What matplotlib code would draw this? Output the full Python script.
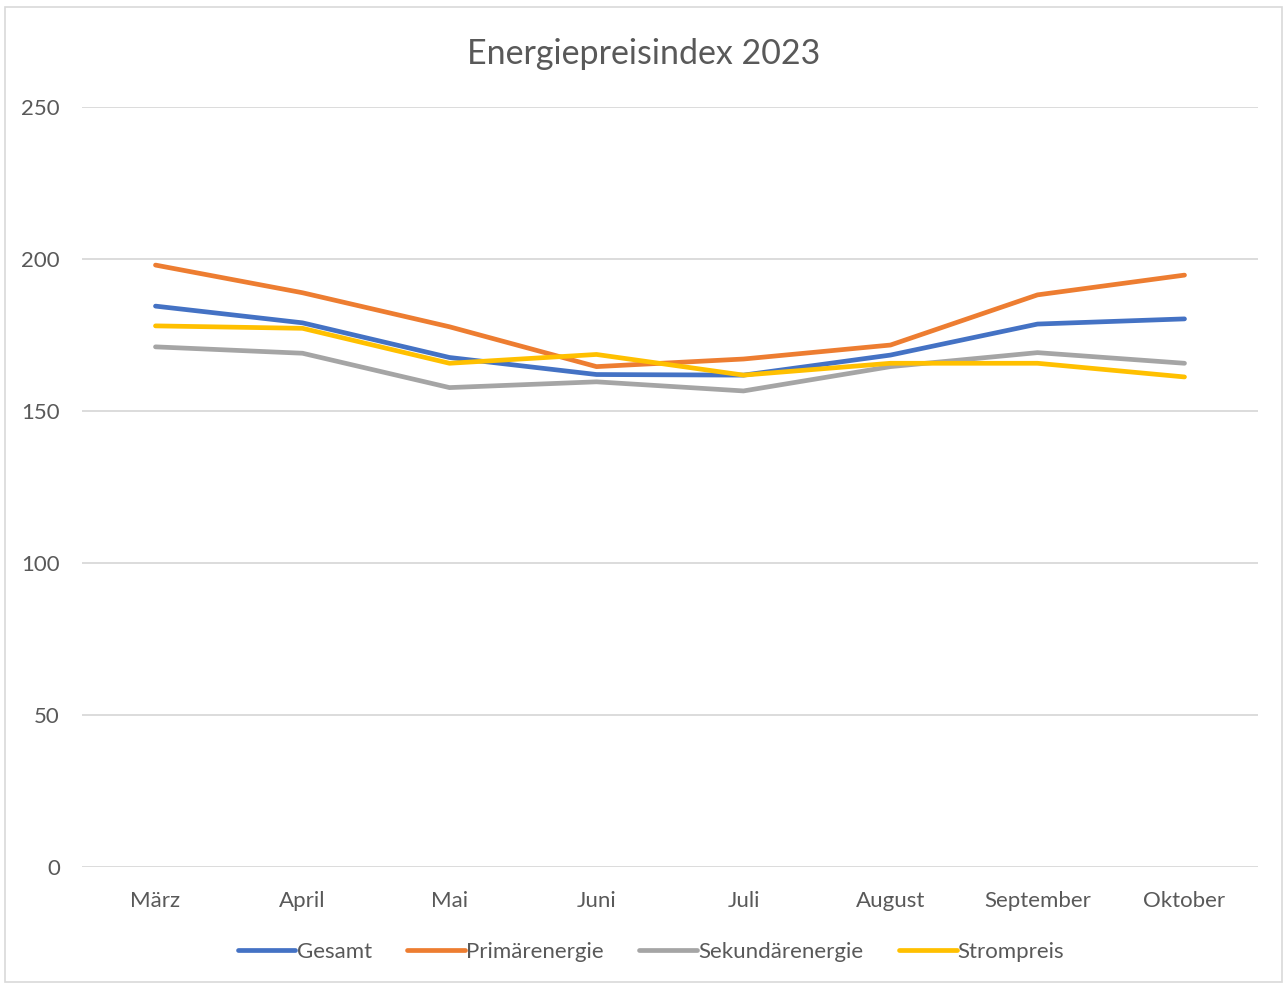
import matplotlib.pyplot as plt
from matplotlib.patches import Rectangle

plt.rcParams['font.family'] = ['Lato', 'DejaVu Sans']

# Monthly index values
months = ['März', 'April', 'Mai', 'Juni', 'Juli', 'August', 'September', 'Oktober']
gesamt = [184.5, 179.0, 167.6, 162.0, 161.8, 168.4, 178.6, 180.3]
primaer = [198.0, 188.9, 177.7, 164.6, 167.1, 171.7, 188.2, 194.7]
sekundaer = [171.1, 169.0, 157.7, 159.6, 156.6, 164.6, 169.2, 165.7]
strom = [178.0, 177.2, 165.7, 168.6, 161.8, 165.7, 165.7, 161.2]

series = [
    ('Gesamt', gesamt, '#4472C4'),
    ('Primärenergie', primaer, '#ED7D31'),
    ('Sekundärenergie', sekundaer, '#A5A5A5'),
    ('Strompreis', strom, '#FFC000'),
]

text_col = '#595959'

fig = plt.figure(figsize=(12.87, 9.85), dpi=100)
ax = fig.add_axes([82 / 1287, 1 - 867 / 985, (1258 - 82) / 1287, (867 - 107) / 985])

x = range(len(months))
for name, vals, col in series:
    ax.plot(x, vals, color=col, lw=3.4, solid_capstyle='round',
            solid_joinstyle='round', label=name)

ax.set_xlim(-0.5, len(months) - 0.5)
ax.set_ylim(0, 250)
ax.set_yticks(range(0, 251, 50))
ax.set_xticks(list(x))
ax.set_xticklabels(months)
ax.grid(axis='y', color='#D9D9D9', lw=1.3)
ax.set_axisbelow(True)
for s in ax.spines.values():
    s.set_visible(False)
ax.tick_params(axis='both', length=0, labelsize=16, labelcolor=text_col)
ax.tick_params(axis='y', pad=16)
ax.tick_params(axis='x', pad=17)

fig.text(0.5, 1 - 54 / 985, 'Energiepreisindex 2023', ha='center', va='center',
         fontsize=24.5, color=text_col)

leg = fig.legend(loc='center', bbox_to_anchor=(651 / 1287, 1 - 952 / 985), ncol=4,
                 frameon=False, fontsize=16, handlelength=2.6, handletextpad=0.05,
                 columnspacing=1.6)
for t in leg.get_texts():
    t.set_color(text_col)
for h in leg.get_lines():
    h.set_solid_capstyle('round')

# light frame around the chart area
fig.patches.append(Rectangle((5 / 1287, 3 / 985), 1277 / 1287, 975 / 985,
                             transform=fig.transFigure, fill=False,
                             edgecolor='#D9D9D9', lw=1.2))

fig.savefig('out.png', dpi=100)
